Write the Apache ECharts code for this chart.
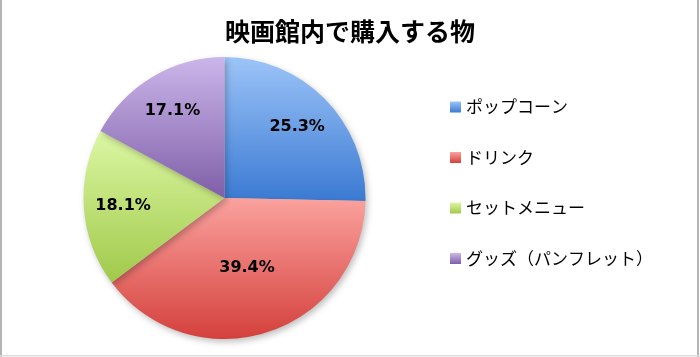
<!DOCTYPE html>
<html><head><meta charset="utf-8">
<script src="https://cdn.jsdelivr.net/npm/echarts@6/dist/echarts.min.js"></script>
<style>html,body{margin:0;padding:0;background:#fff}#c{width:700px;height:357px}</style>
</head><body><div id="c"></div>
<script>
const title = '映画館内で購入する物';
const categories = ['ポップコーン', 'ドリンク', 'セットメニュー', 'グッズ（パンフレット）'];
const values = [25.3, 39.4, 18.1, 17.1];
const topColors = ['#9cc4f7', '#fba29e', '#dcf7a4', '#cbb6ea'];
const bottomColors = ['#3b7ad3', '#d4403c', '#a0c94a', '#7f5fa8'];
// labels placed near mid-radius (inner) vs further out (outer) like Excel best-fit
const labelOuter = [true, false, true, true];

const cx = 224.5, cy = 198, R = 141;
const grad = (i) => new echarts.graphic.LinearGradient(0, 0, 0, 1, [
  {offset: 0, color: topColors[i]}, {offset: 1, color: bottomColors[i]}]);
const fmt = (p) => p.value.toFixed(1) + '%';
const labelStyle = {fontFamily: 'DejaVu Sans', fontWeight: 'bold', fontSize: 16, color: '#000'};

const chart = echarts.init(document.getElementById('c'), null, {renderer: 'canvas'});
chart.setOption({
  backgroundColor: '#fff',
  animation: false,
  title: {
    text: title, left: 'center', top: 14,
    textStyle: {fontFamily: 'Noto Sans CJK JP', fontWeight: 'bold', fontSize: 25, color: '#000'}
  },
  legend: {
    orient: 'vertical', left: 445, top: 92,
    itemWidth: 11, itemHeight: 11, itemGap: 30.5,
    icon: 'rect',
    textStyle: {fontFamily: 'Noto Sans CJK JP', fontSize: 17, lineHeight: 20, color: '#000'},
    data: categories.map((n, i) => ({name: n, itemStyle: {color: grad(i)}}))
  },
  graphic: [
    {type: 'rect', shape: {x: 0, y: 0, width: 2, height: 357}, style: {fill: '#b4b4b4'}, silent: true},
    {type: 'rect', shape: {x: 697, y: 0, width: 2, height: 357}, style: {fill: '#b4b4b4'}, silent: true},
    {type: 'rect', shape: {x: 0, y: 355, width: 700, height: 1.5}, style: {fill: '#dcdcdc'}, silent: true}
  ],
  series: [
    {
      type: 'pie', name: 'main', center: [cx, cy], radius: [0, R],
      startAngle: 90, clockwise: true, z: 2,
      label: Object.assign({show: true, position: 'inside', formatter: fmt}, labelStyle),
      labelLine: {show: false},
      emphasis: {disabled: true},
      itemStyle: {borderWidth: 0, shadowBlur: 6, shadowOffsetX: 2, shadowOffsetY: 3, shadowColor: 'rgba(0,0,0,0.25)'},
      data: categories.map((n, i) => ({
        name: n, value: values[i],
        itemStyle: {color: grad(i)},
        label: {show: !labelOuter[i]}
      }))
    },
    {
      type: 'pie', name: 'labels', center: [cx, cy], radius: [R * 0.40, R],
      startAngle: 90, clockwise: true, silent: true, z: 3,
      label: Object.assign({show: true, position: 'inside', formatter: fmt}, labelStyle),
      labelLine: {show: false},
      emphasis: {disabled: true},
      itemStyle: {color: 'rgba(0,0,0,0)', borderWidth: 0},
      data: categories.map((n, i) => ({
        name: n, value: values[i],
        label: {show: labelOuter[i]}
      }))
    }
  ]
});
</script></body></html>
